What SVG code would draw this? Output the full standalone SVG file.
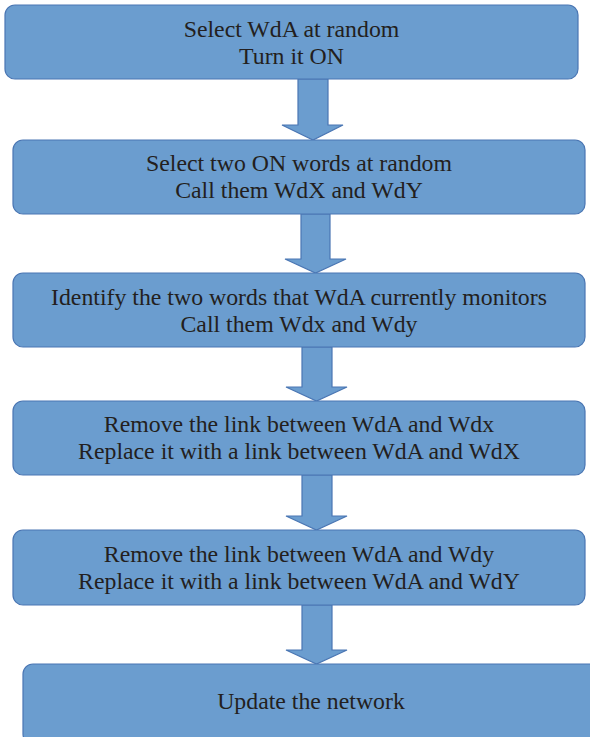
<svg xmlns="http://www.w3.org/2000/svg" width="590" height="737" viewBox="0 0 590 737">
<style>
.box{fill:#6b9dcf;stroke:#4a76b3;stroke-width:1.2}
.arr{fill:#6b9dcf;stroke:#4a76b3;stroke-width:1.2;stroke-linejoin:miter}
text{font-family:"Liberation Serif","Times New Roman",serif;font-size:23.8px;fill:#231f20;text-anchor:middle}
</style>
<rect width="590" height="737" fill="#ffffff"/>
<g id="connectors">
<polygon class="arr" points="298,79 328,79 328,125 343,125 313,140 282,125 298,125"/>
<polygon class="arr" points="301,214 330,214 330,259 346,259 315.5,273 285,259 301,259"/>
<polygon class="arr" points="302,347 332,347 332,387 347,387 316.5,401 286,387 302,387"/>
<polygon class="arr" points="302,475 332,475 332,516 347,516 316.5,530 286,516 302,516"/>
<polygon class="arr" points="302,605 332,605 332,650 347,650 316.5,664 286,650 302,650"/>
</g>
<g id="node1">
<rect class="box" x="5" y="5" width="573" height="74" rx="10"/>
<text x="291.5" y="37">Select WdA at random</text>
<text x="291.5" y="64">Turn it ON</text>
</g>
<g id="node2">
<rect class="box" x="13" y="140" width="572" height="74" rx="10"/>
<text x="299" y="171">Select two ON words at random</text>
<text x="299" y="198">Call them WdX and WdY</text>
</g>
<g id="node3">
<rect class="box" x="13" y="273" width="572" height="74" rx="10"/>
<text x="299" y="305">Identify the two words that WdA currently monitors</text>
<text x="299" y="332">Call them Wdx and Wdy</text>
</g>
<g id="node4">
<rect class="box" x="13" y="401" width="572" height="74" rx="10"/>
<text x="299" y="432">Remove the link between WdA and Wdx</text>
<text x="299" y="459">Replace it with a link between WdA and WdX</text>
</g>
<g id="node5">
<rect class="box" x="13" y="530" width="572" height="75" rx="10"/>
<text x="299" y="562">Remove the link between WdA and Wdy</text>
<text x="299" y="589">Replace it with a link between WdA and WdY</text>
</g>
<g id="node6">
<rect class="box" x="23" y="664" width="580" height="80" rx="10"/>
<text x="311" y="709">Update the network</text>
</g>
</svg>
